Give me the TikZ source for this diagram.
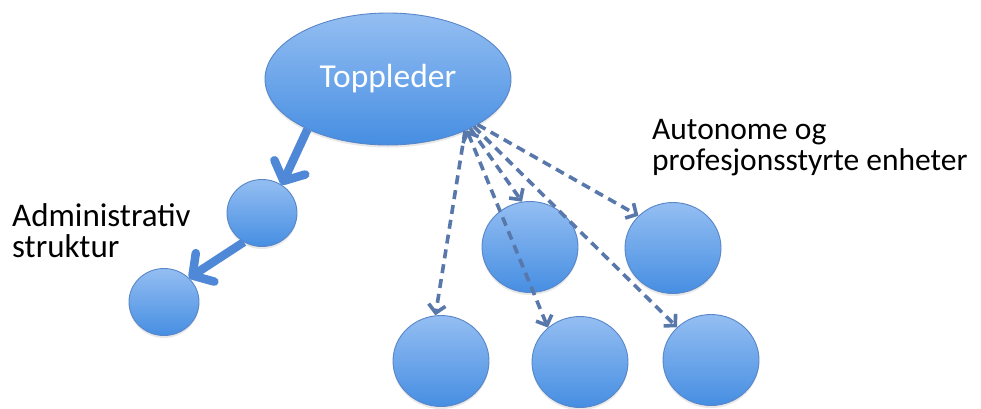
\documentclass[tikz,border=0pt]{standalone}
\usepackage{fontspec}
\setmainfont{Carlito}
\usetikzlibrary{shapes.geometric,arrows.meta,shadows}
\definecolor{topc}{RGB}{148,190,242}
\definecolor{botc}{RGB}{70,142,226}
\definecolor{edgec}{RGB}{88,134,200}
\definecolor{thickc}{RGB}{78,136,214}
\definecolor{dashc}{RGB}{88,120,172}
\begin{document}
\begin{tikzpicture}[x=1pt,y=-1pt,
 bubble/.style={ellipse, draw=edgec, line width=0.9pt, top color=topc, bottom color=botc, inner sep=0pt,
   drop shadow={opacity=0.18, shadow xshift=0pt, shadow yshift=-2.5pt}},
 smallc/.style={bubble, minimum width=70pt, minimum height=67pt},
 bigc/.style={bubble, minimum width=96pt, minimum height=91pt},
 thickarrow/.style={draw=thickc, line width=8.5pt, -{Straight Barb[length=15pt,width=34pt,round]}},
 dasharrow/.style={draw=dashc, line width=3.6pt, dash pattern=on 9pt off 6pt, -{Straight Barb[length=8pt,width=17pt]}},
 lbl/.style={align=left, inner sep=0pt, anchor=north west}]
\useasboundingbox (0,0) rectangle (981,408);
\fill[white] (0,0) rectangle (981,408);

\node[bubble, minimum width=246pt, minimum height=132pt, text=white,
  font=\fontsize{33.5}{33}\selectfont] (top) at (388,79) {Toppleder};

\node[smallc] (c1) at (262,213) {};
\node[smallc] (c2) at (164,302) {};
\node[bigc] (m)  at (530,247) {};
\node[bigc] (rt) at (673,248) {};
\node[bigc] (bl) at (441,361) {};
\node[bigc] (bm) at (580,362) {};
\node[bigc] (br) at (711,360) {};

\node[lbl, font=\fontsize{33}{31}\selectfont] (adm) at (12,203) {Administrativ\\struktur};
\node[lbl, font=\fontsize{31.5}{31}\selectfont] (aut) at (652,119) {Autonome og\\profesjonsstyrte enheter};

\draw[thickarrow] (top.-148) -- (c1.55);
\draw[thickarrow] (c1.-122) -- (c2.44);

\draw[dasharrow] (top.-34) -- (bl.97);
\draw[dasharrow] (top.-31) -- (m.100);
\draw[dasharrow, {Straight Barb[length=8pt,width=17pt]}-{Straight Barb[length=8pt,width=17pt]}] (top.-33) -- (bm.133);
\draw[dasharrow] (top.-29) -- (br.136);
\draw[dasharrow] (top.-27) -- (rt.137);
\end{tikzpicture}
\end{document}
